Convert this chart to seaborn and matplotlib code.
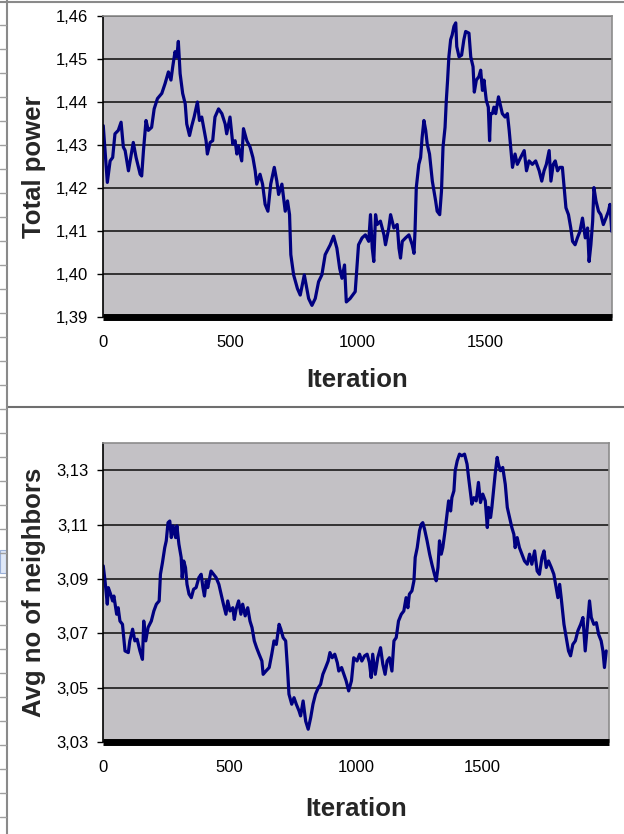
import numpy as np
import pandas as pd
import seaborn as sns
import matplotlib.pyplot as plt
from matplotlib.lines import Line2D
from matplotlib.patches import Rectangle

# Values
power_iter = [1, 17, 28, 38, 47, 60, 71, 80, 87, 100, 119, 130, 146, 152, 159, 169, 178, 191,
              201, 214, 231, 244, 257, 267, 274, 283, 290, 296, 303, 313, 323, 329, 340, 349,
              358, 371, 379, 388, 405, 410, 421, 431, 440, 454, 467, 480, 486, 499, 510, 519,
              526, 532, 545, 552, 565, 578, 589, 598, 604, 617, 627, 637, 648, 659, 673, 683,
              690, 703, 716, 725, 733, 738, 749, 764, 775, 791, 808, 821, 834, 847, 860, 873,
              893, 906, 919, 930, 939, 949, 956, 971, 991, 1004,
              1018, 1031, 1044, 1051, 1058, 1064, 1071, 1077, 1090, 1104, 1110, 1123, 1130,
              1143, 1156, 1163, 1169, 1176, 1189, 1202, 1215, 1222, 1226, 1231, 1241, 1248,
              1254, 1261, 1268, 1274, 1283, 1294, 1307, 1313, 1323, 1330, 1336, 1344, 1349,
              1354, 1359, 1366, 1372, 1379, 1386, 1390, 1399, 1409, 1418, 1425, 1438, 1445,
              1454, 1459, 1467, 1477, 1484, 1491, 1497, 1506, 1514, 1519, 1523, 1530, 1536,
              1543, 1554, 1563, 1569, 1580, 1589, 1596, 1602, 1609, 1619, 1628, 1641, 1655,
              1664, 1674, 1687, 1700, 1714, 1724, 1733, 1742, 1753, 1760, 1769, 1777, 1786,
              1795, 1805, 1812, 1819, 1829, 1838, 1845, 1855, 1864, 1874, 1884, 1895, 1904,
              1910, 1917, 1924, 1929, 1937, 1947, 1956, 1966, 1976, 1986, 1992, 1999]
power_val = [1.4345, 1.4213, 1.4263, 1.4271, 1.4326, 1.4334, 1.4353, 1.4295, 1.4287, 1.4240,
             1.4306, 1.4271, 1.4232, 1.4228, 1.4287, 1.4357, 1.4334, 1.4341, 1.4384, 1.4408,
             1.4420, 1.4443, 1.4470, 1.4451, 1.4482, 1.4517, 1.4505, 1.4541, 1.4466, 1.4420,
             1.4396, 1.4349, 1.4322, 1.4345, 1.4365, 1.4400, 1.4357, 1.4365, 1.4310, 1.4279,
             1.4306, 1.4310, 1.4365, 1.4384, 1.4373, 1.4349, 1.4326, 1.4365, 1.4302, 1.4310,
             1.4279, 1.4298, 1.4263, 1.4338, 1.4310, 1.4295, 1.4271, 1.4240, 1.4209, 1.4232,
             1.4209, 1.4162, 1.4146, 1.4209, 1.4248, 1.4216, 1.4185, 1.4209, 1.4146, 1.4170,
             1.4138, 1.4045, 1.3998, 1.3966, 1.3951, 1.3998, 1.3943, 1.3927, 1.3943, 1.3982,
             1.3998, 1.4045, 1.4068, 1.4088, 1.4060, 1.4013, 1.3990, 1.4021, 1.3935, 1.3943,
             1.3959, 1.4068,
             1.4084, 1.4091, 1.4076, 1.4138, 1.4060, 1.4029, 1.4138, 1.4115, 1.4123, 1.4091,
             1.4068, 1.4107, 1.4138, 1.4107, 1.4115, 1.4060, 1.4037, 1.4076, 1.4084, 1.4091,
             1.4068, 1.4048, 1.4099, 1.4201, 1.4255, 1.4271, 1.4318, 1.4357, 1.4334, 1.4302,
             1.4279, 1.4216, 1.4170, 1.4146, 1.4138, 1.4193, 1.4295, 1.4341, 1.4404, 1.4451,
             1.4505, 1.4545, 1.4556, 1.4576, 1.4584, 1.4529, 1.4505, 1.4509, 1.4545, 1.4564,
             1.4560, 1.4505, 1.4482, 1.4423, 1.4451, 1.4459, 1.4474, 1.4427, 1.4451, 1.4404,
             1.4388, 1.4310, 1.4373, 1.4373, 1.4388, 1.4373, 1.4412, 1.4388, 1.4373, 1.4365,
             1.4373, 1.4334, 1.4295, 1.4248, 1.4279, 1.4255, 1.4271, 1.4287, 1.4240, 1.4263,
             1.4255, 1.4263, 1.4240, 1.4216, 1.4240, 1.4255, 1.4287, 1.4216, 1.4255, 1.4263,
             1.4240, 1.4248, 1.4248, 1.4201, 1.4154, 1.4138, 1.4107, 1.4076, 1.4068, 1.4084,
             1.4099, 1.4130, 1.4084, 1.4107, 1.4029, 1.4068, 1.4123, 1.4201, 1.4170, 1.4146,
             1.4138, 1.4115, 1.4130, 1.4146, 1.4162, 1.4099]

nb_iter = [1, 8, 17, 21, 30, 38, 43, 54, 60, 67, 77, 87, 100, 106, 117, 126, 135, 146, 156,
           161, 169, 178, 191, 201, 211, 222, 227, 235, 244, 250, 257, 264, 270, 277, 287,
           292, 300, 309, 313, 319, 326, 332, 340, 349, 358, 368, 379, 388, 395, 401, 408,
           414, 427, 437, 447, 458, 467, 476, 486, 493, 502, 513, 519, 526, 536, 545, 552,
           562, 572, 581, 589, 598, 607, 617, 628, 633, 644, 657, 667, 676, 685, 696, 703,
           712, 722, 729, 735, 746, 755, 764, 775, 781, 791, 801, 811, 821, 830, 840, 851,
           860, 869, 880, 890, 897, 906, 916, 926, 932, 943, 952, 961, 971, 982, 991, 1004,
           1014, 1023, 1034, 1044, 1053, 1060, 1066, 1076, 1086, 1097, 1106, 1115, 1123,
           1132, 1142, 1150, 1159, 1168, 1179, 1189, 1198, 1205, 1211, 1221, 1229, 1234,
           1242, 1251, 1258, 1264, 1271, 1281, 1291, 1300, 1310, 1317, 1324, 1330, 1337,
           1343, 1352, 1360, 1366, 1374, 1379, 1387, 1392, 1400, 1409, 1418, 1429, 1439,
           1445, 1453, 1458, 1466, 1475, 1484, 1492, 1501, 1511, 1519, 1524, 1532, 1537,
           1545, 1550, 1558, 1563, 1571, 1580, 1590, 1598, 1607, 1616, 1624, 1629, 1637,
           1646, 1656, 1666, 1677, 1686, 1695, 1706, 1716, 1725, 1735, 1743, 1752, 1761,
           1772, 1782, 1791, 1798, 1805, 1811, 1822, 1831, 1840, 1848, 1857, 1867, 1877,
           1888, 1897, 1906, 1914, 1923, 1930, 1940, 1950, 1959, 1969, 1976, 1982, 1989]
nb_val = [3.0948, 3.0893, 3.0807, 3.0868, 3.0844, 3.0819, 3.0837, 3.0770, 3.0794, 3.0745,
          3.0733, 3.0635, 3.0629, 3.0672, 3.0715, 3.0672, 3.0678, 3.0635, 3.0604, 3.0745,
          3.0672, 3.0721, 3.0745, 3.0782, 3.0807, 3.0819, 3.0917, 3.0960, 3.1015, 3.1040,
          3.1107, 3.1113, 3.1052, 3.1095, 3.1052, 3.1095, 3.1028, 3.0979, 3.0905, 3.0966,
          3.0942, 3.0880, 3.0844, 3.0831, 3.0862, 3.0868, 3.0905, 3.0917, 3.0868, 3.0837,
          3.0893, 3.0868, 3.0929, 3.0917, 3.0905, 3.0880, 3.0844, 3.0807, 3.0770, 3.0819,
          3.0782, 3.0794, 3.0751, 3.0788, 3.0819, 3.0770, 3.0807, 3.0764, 3.0794, 3.0745,
          3.0721, 3.0672, 3.0647, 3.0623, 3.0598, 3.0549, 3.0561, 3.0574, 3.0623, 3.0672,
          3.0659, 3.0733, 3.0715, 3.0684, 3.0672, 3.0574, 3.0476, 3.0439, 3.0463, 3.0439,
          3.0414, 3.0396, 3.0451, 3.0377, 3.0347, 3.0390, 3.0439, 3.0476, 3.0500, 3.0512,
          3.0549, 3.0574, 3.0598, 3.0629, 3.0610, 3.0623, 3.0592, 3.0561, 3.0574, 3.0549,
          3.0525, 3.0488, 3.0525, 3.0610, 3.0598,
          3.0623, 3.0598, 3.0617, 3.0623, 3.0592, 3.0537, 3.0623, 3.0549, 3.0610, 3.0647,
          3.0586, 3.0549, 3.0598, 3.0610, 3.0561, 3.0672, 3.0684, 3.0745, 3.0770, 3.0782,
          3.0831, 3.0794, 3.0844, 3.0856, 3.0893, 3.0979, 3.1015, 3.1077, 3.1101, 3.1107,
          3.1083, 3.1040, 3.0991, 3.0954, 3.0917, 3.0893, 3.0942, 3.1040, 3.0991, 3.1015,
          3.1077, 3.1138, 3.1187, 3.1150, 3.1199, 3.1224, 3.1298, 3.1334, 3.1359, 3.1353,
          3.1359, 3.1322, 3.1273, 3.1212, 3.1175, 3.1199, 3.1187, 3.1255, 3.1181, 3.1212,
          3.1187, 3.1089, 3.1163, 3.1126, 3.1163, 3.1236, 3.1285, 3.1347, 3.1322, 3.1298,
          3.1310, 3.1248, 3.1163, 3.1126, 3.1089, 3.1064, 3.1015, 3.1052, 3.1015, 3.0991,
          3.0966, 3.0954, 3.0991, 3.0954, 3.1003, 3.0929, 3.0917, 3.0979, 3.1003, 3.0942,
          3.0966, 3.0942, 3.0917, 3.0868, 3.0831, 3.0880, 3.0831, 3.0733, 3.0684, 3.0635,
          3.0617, 3.0659, 3.0672, 3.0709, 3.0733, 3.0758, 3.0635, 3.0721, 3.0819, 3.0758,
          3.0733, 3.0739, 3.0696, 3.0672, 3.0635, 3.0574, 3.0635]

x_ticks = [0, 500, 1000, 1500]
x_labels = ["0", "500", "1000", "1500"]
power_ticks = [1.39, 1.40, 1.41, 1.42, 1.43, 1.44, 1.45, 1.46]
power_labels = ["1,39", "1,40", "1,41", "1,42", "1,43", "1,44", "1,45", "1,46"]
nb_ticks = [3.03, 3.05, 3.07, 3.09, 3.11, 3.13]
nb_labels = ["3,03", "3,05", "3,07", "3,09", "3,11", "3,13"]

sns.set_theme(style="white")
plt.rcParams['font.family'] = ['Liberation Sans', 'DejaVu Sans']

W, H = 624, 834
fig = plt.figure(figsize=(W / 100, H / 100), dpi=100)

# axes rectangles from pixel boxes (left, top, right, bottom)
def px_axes(l, t, r, b):
    return fig.add_axes([l / W, 1 - b / H, (r - l) / W, (b - t) / H])

ax1 = px_axes(103, 16, 612, 317)
ax2 = px_axes(103, 443, 609, 742)

df1 = pd.DataFrame({"Iteration": power_iter, "Total power": power_val})
df2 = pd.DataFrame({"Iteration": nb_iter, "Avg no of neighbors": nb_val})

setups = [
    (ax1, df1, "Total power", (1.39, 1.46), power_ticks, power_labels, -0.17),
    (ax2, df2, "Avg no of neighbors", (3.03, 3.14), nb_ticks, nb_labels, -0.185),
]

for ax, df, ylab, ylim, yt, yl, xlab_y in setups:
    ax.set_facecolor("#c3c1c5")
    for v in yt:
        ax.axhline(v, color="#1a1a1a", lw=1.2, zorder=1)
    sns.lineplot(data=df, x="Iteration", y=ylab, ax=ax, color="#000080",
                 linewidth=2.3, estimator=None, zorder=3)
    ax.set_xlim(0, 2000)
    ax.set_ylim(*ylim)
    ax.set_xticks(x_ticks)
    ax.set_xticklabels(x_labels, fontsize=12)
    ax.set_yticks(yt)
    ax.set_yticklabels(yl, fontsize=12)
    ax.tick_params(axis="x", length=0, pad=13, colors="#000000")
    ax.tick_params(axis="y", length=4.5, width=1, pad=6, colors="#000000",
                   left=True, direction="out")
    ax.set_xlabel("Iteration", fontsize=18.5, fontweight="bold")
    ax.set_ylabel(ylab, fontsize=18.5, fontweight="bold")
    ax.xaxis.set_label_coords(0.5, xlab_y)
    ax.yaxis.set_label_coords(-0.112, 0.5)
    ax.xaxis.label.set_va("top")
    ax.spines["left"].set_color("#000000")
    ax.spines["left"].set_linewidth(1.2)
    ax.spines["bottom"].set_color("#000000")
    ax.spines["bottom"].set_linewidth(5)
    ax.spines["bottom"].set_capstyle("butt")
    ax.spines["top"].set_color("#8c8c8c")
    ax.spines["top"].set_linewidth(1.2)
    ax.spines["right"].set_color("#8c8c8c")
    ax.spines["right"].set_linewidth(1.2)
    for s in ax.spines.values():
        s.set_zorder(4)

# worksheet frame around the two charts
def fig_line(x0, y0, x1, y1, **kw):
    fig.add_artist(Line2D([x0 / W, x1 / W], [1 - y0 / H, 1 - y1 / H], **kw))

fig_line(0, 2, W, 2, color="#8a8a8a", lw=1.5)
fig_line(7, 407, W, 407, color="#6f6f6f", lw=1.5)
fig_line(7, 0, 7, H, color="#8a8a8a", lw=1.5)
for yy in range(25, H, 24):
    fig_line(0, yy, 6, yy, color="#a0a0a0", lw=1)
fig.add_artist(Rectangle((0, 1 - 573 / H), 6 / W, 23 / H, transform=fig.transFigure,
                         facecolor="#dfe8f7", edgecolor="#9ab0d8", lw=0.8))

fig.savefig("out.png", dpi=100)
